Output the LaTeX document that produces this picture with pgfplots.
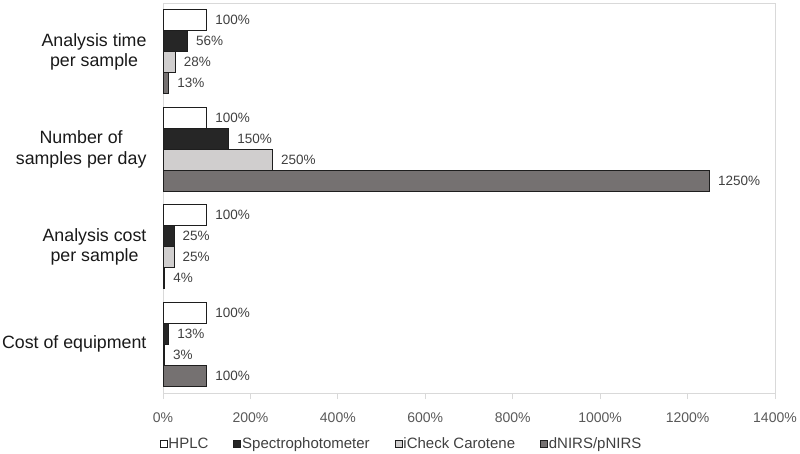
\documentclass[border=0pt]{standalone}
\usepackage{pgfplots}
\pgfplotsset{compat=1.18}
\usepackage{fontspec}
\setmainfont{Liberation Sans}
\definecolor{spec}{RGB}{38,38,38}
\definecolor{icheck}{RGB}{208,206,206}
\definecolor{dnirs}{RGB}{117,113,113}
\definecolor{edge}{RGB}{30,30,30}
\definecolor{lbl}{RGB}{64,64,64}
\definecolor{tcl}{RGB}{89,89,89}
\definecolor{grid}{RGB}{217,217,217}
\begin{document}
\begin{tikzpicture}[x=1pt,y=1pt]
\path[use as bounding box] (0,0) rectangle (800,454);
\begin{axis}[
  at={(163pt,61pt)}, anchor=south west,
  scale only axis, width=612pt, height=390pt,
  xbar, xmin=0, xmax=1400, ymin=-0.5, ymax=3.5, y dir=reverse,
  bar width=0.216,
  axis line style={draw=grid, line width=0.8pt},
  ytick={0,1,2,3},
  yticklabels={{Analysis time\\per sample},{Number of\\samples per day},{Analysis cost\\per sample},{Cost of equipment}},
  yticklabel style={align=center, font=\fontsize{17.8pt}{20.5pt}\selectfont, text=black!90, xshift=-7pt},
  ytick style={draw=none},
  xtick={0,200,...,1400},
  tick pos=left,
  tick align=outside,
  major tick length=6pt,
  xtick style={draw=grid, line width=0.8pt},
  /pgf/number format/assume math mode=true,
  /pgf/number format/1000 sep={},
  xticklabel={\pgfmathprintnumber{\tick}\%},
  xticklabel style={font=\fontsize{14pt}{16pt}\selectfont, text=tcl, yshift=-10pt},
  point meta=x,
  nodes near coords={\pgfmathprintnumber{\pgfplotspointmeta}\%},
  nodes near coords style={font=\fontsize{13.5pt}{16pt}\selectfont, text=lbl, anchor=west, xshift=5pt},
  every axis plot/.append style={draw=edge, line width=0.8pt},
  legend columns=4,
  legend style={at={(0.389,-0.131)}, anchor=center, draw=none, fill=none,
    font=\fontsize{15pt}{17pt}\selectfont, text=lbl,
    /tikz/every even column/.append style={column sep=24pt},
    nodes={inner sep=1pt}},
  legend image code/.code={\draw[#1, line width=0.7pt] (0pt,-3.5pt) rectangle (7pt,3.5pt);},
]
\addplot[fill=white, bar shift=-0.324] coordinates {(100,0) (100,1) (100,2) (100,3)};
\addplot[fill=spec, bar shift=-0.108] coordinates {(56,0) (150,1) (25,2) (13,3)};
\addplot[fill=icheck, bar shift=0.108] coordinates {(28,0) (250,1) (25,2) (3,3)};
\addplot[fill=dnirs, bar shift=0.324] coordinates {(13,0) (1250,1) (4,2) (100,3)};
\legend{HPLC,Spectrophotometer,iCheck Carotene,dNIRS/pNIRS}
\end{axis}
\end{tikzpicture}
\end{document}
